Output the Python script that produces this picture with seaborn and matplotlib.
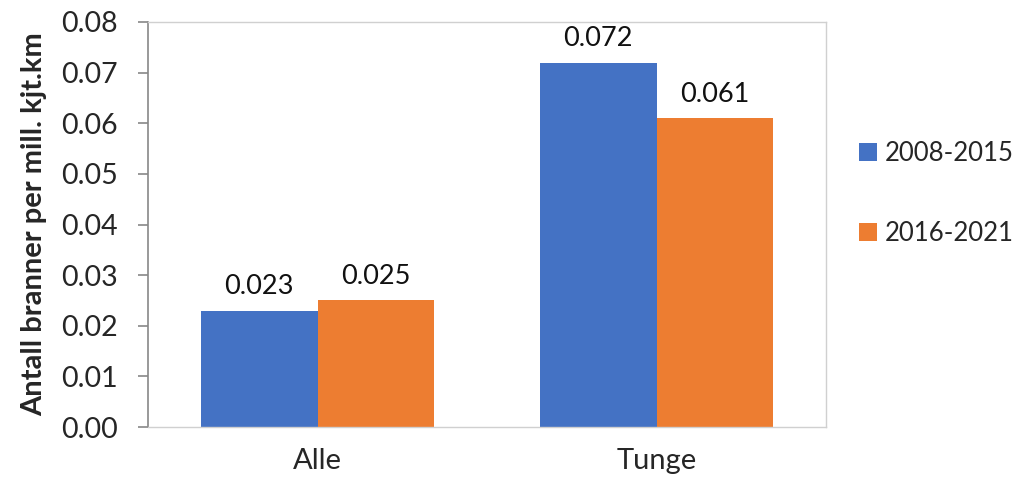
import matplotlib
matplotlib.use("Agg")
import matplotlib.pyplot as plt
import seaborn as sns
import pandas as pd

categories = ["Alle", "Tunge"]
periods = ["2008-2015", "2016-2021"]
values_2008_2015 = [0.023, 0.072]
values_2016_2021 = [0.025, 0.061]
colors = ["#4472C4", "#ED7D31"]
ylabel = "Antall branner per mill. kjt.km"

df = pd.DataFrame({
    "kategori": categories * 2,
    "periode": [periods[0]] * 2 + [periods[1]] * 2,
    "verdi": values_2008_2015 + values_2016_2021,
})

sns.set_style("white")
plt.rcParams["font.family"] = ["Lato", "DejaVu Sans"]

fig = plt.figure(figsize=(10.24, 4.8), dpi=100)
ax = fig.add_axes([148 / 1024, 53 / 480, 678 / 1024, 405 / 480])

sns.barplot(data=df, x="kategori", y="verdi", hue="periode", order=categories,
            hue_order=periods, palette=colors, width=0.69, gap=0,
            saturation=1, errorbar=None, linewidth=0, ax=ax)

for cont in ax.containers:
    ax.bar_label(cont, fmt="%.3f", padding=8, fontsize=19.5, color="#111111")

ax.set_xlim(-0.5, 1.5)
ax.set_ylim(0, 0.08)
ax.set_yticks([i * 0.01 for i in range(9)])
ax.set_yticklabels([f"{i * 0.01:.2f}" for i in range(9)], fontsize=20.5)
ax.tick_params(axis="y", length=7, width=1.2, color="#888888", direction="out", pad=15, left=True)
ax.tick_params(axis="x", length=0, pad=15, labelsize=21)
ax.set_xlabel("")
ax.set_ylabel(ylabel, fontsize=21, fontweight="bold", labelpad=10)

for side in ["top", "right", "bottom"]:
    ax.spines[side].set_color("#D0D0D0")
    ax.spines[side].set_linewidth(1)
ax.spines["left"].set_color("#888888")
ax.spines["left"].set_linewidth(1.2)

handles, labels = ax.get_legend_handles_labels()
ax.legend(handles, labels, loc="center left", bbox_to_anchor=(859 / 1024, 0.597),
          bbox_transform=fig.transFigure, frameon=False, fontsize=18.5,
          borderpad=0, borderaxespad=0,
          handlelength=0.7, handleheight=0.7, handletextpad=0.3, labelspacing=2.15)

fig.savefig("out.png", dpi=100)
